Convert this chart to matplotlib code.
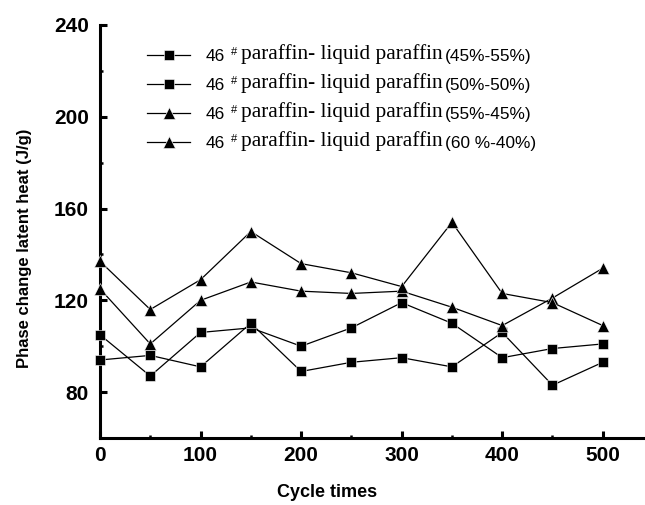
import numpy as np
import matplotlib
matplotlib.use('Agg')
import matplotlib.pyplot as plt
from matplotlib.ticker import MultipleLocator

# cycle numbers and latent heat (J/g)
cycles = [0, 50, 100, 150, 200, 250, 300, 350, 400, 450, 500]
heat_45_55 = [105, 87, 106, 108, 100, 108, 119, 110, 95, 99, 101]
heat_50_50 = [94, 96, 91, 110, 89, 93, 95, 91, 106, 83, 93]
heat_55_45 = [125, 101, 120, 128, 124, 123, 124, 117, 109, 121, 134]
heat_60_40 = [137, 116, 129, 150, 136, 132, 126, 154, 123, 119, 109]

ratios = ['(45%-55%)', '(50%-50%)', '(55%-45%)', '(60 %-40%)']
markers = ['s', 's', '^', '^']
series = [heat_45_55, heat_50_50, heat_55_45, heat_60_40]

sans = 'Liberation Sans'
serif = 'Liberation Serif'

fig = plt.figure(figsize=(6.45, 5.05), dpi=100)
ax = fig.add_axes([100 / 645, 67 / 505, 545 / 645, 413 / 505])

for vals, m in zip(series, markers):
    ms = 7.2 if m == 's' else 8.5
    ax.plot(cycles, vals, color='black', lw=0.9, marker=m, ms=ms,
            mfc='black', mec='white', mew=0.4, clip_on=False, zorder=3,
            label='46')

ax.set_xlim(0, 542)
ax.set_ylim(60, 240)
ax.xaxis.set_major_locator(MultipleLocator(100))
ax.xaxis.set_minor_locator(MultipleLocator(50))
ax.yaxis.set_minor_locator(MultipleLocator(20))
ax.set_yticks([80, 120, 160, 200, 240])

for s in ['top', 'right']:
    ax.spines[s].set_visible(False)
for s in ['left', 'bottom']:
    ax.spines[s].set_linewidth(2.2)

ax.tick_params(which='major', direction='in', length=5, width=2.2, pad=6,
               labelsize=15)
ax.tick_params(axis='y', which='major', pad=8)
ax.tick_params(which='minor', direction='in', length=2.5, width=1.8)
for lab in ax.get_xticklabels() + ax.get_yticklabels():
    lab.set_fontfamily(sans)
    lab.set_fontweight('bold')

ax.set_xlabel('Cycle times', fontsize=13, fontweight='bold', family=sans)
ax.set_ylabel('Phase change latent heat (J/g)', fontsize=12, fontweight='bold',
              family=sans)
ax.xaxis.set_label_coords(0.4165, -0.111)
ax.yaxis.set_label_coords(-0.125, 0.46)

leg = ax.legend(loc='upper left', bbox_to_anchor=(147 / 645, 1 - 48.5 / 505),
                bbox_transform=fig.transFigure, frameon=False,
                prop={'family': sans, 'size': 12.5}, handlelength=2.5,
                handletextpad=0.85, labelspacing=0.8, borderpad=0,
                borderaxespad=0, numpoints=1)

# rest of each legend entry: superscript #, serif words, sans ratio
# (drawn after the legend so the legend texts are already placed)
for txt, ratio in zip(leg.get_texts(), ratios):
    ax.annotate('#', xy=(1, 1), xycoords=txt, xytext=(4.5, 1),
                textcoords='offset points', fontsize=8,
                family=sans, va='top', ha='left', zorder=6)
    words = ax.annotate('paraffin- liquid paraffin', xy=(1, 0), xycoords=txt,
                        xytext=(12, -0.5), textcoords='offset points',
                        fontsize=15.3, family=serif, va='bottom', ha='left',
                        zorder=7)
    ax.annotate(ratio, xy=(1, 0), xycoords=words, xytext=(1.5, 0.5),
                textcoords='offset points', fontsize=12.4, family=sans,
                va='bottom', ha='left', zorder=8)

fig.savefig('out.png', dpi=100)
